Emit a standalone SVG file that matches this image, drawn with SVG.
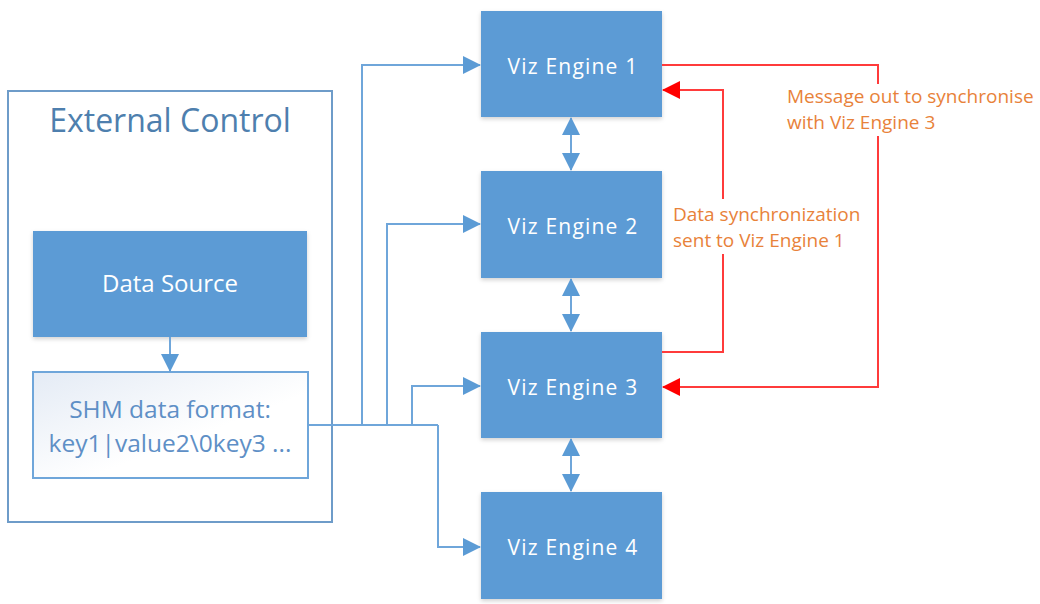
<svg xmlns="http://www.w3.org/2000/svg" width="1040" height="604" viewBox="0 0 1040 604">
<style>
.box{fill:#5B9BD5;filter:url(#sh)}
.wt{font-family:"Open Sans","Noto Sans",sans-serif;fill:#FFFFFF;text-anchor:middle}
.eng{font-size:21px;letter-spacing:1.2px}
.bl{fill:none;stroke:#6FA6DA;stroke-width:2}
.rd{fill:none;stroke:#FF3B3B;stroke-width:2}
.or{font-family:"Open Sans","Noto Sans",sans-serif;font-size:19px;fill:#E8823A}
</style>
<defs>
<filter id="sh" x="-10%" y="-10%" width="120%" height="130%">
<feDropShadow dx="0" dy="2" stdDeviation="2" flood-color="#000" flood-opacity="0.18"/>
</filter>
<linearGradient id="g" x1="0" y1="0" x2="1" y2="1">
<stop offset="0" stop-color="#E4EBF5"/>
<stop offset="0.6" stop-color="#FFFFFF"/>
</linearGradient>
<marker id="abL" markerWidth="18" markerHeight="18" refX="17" refY="9" orient="auto-start-reverse" markerUnits="userSpaceOnUse" viewBox="0 0 18 18">
<path d="M0,0 L18,9 L0,18 Z" fill="#5B9BD5"/>
</marker>
<marker id="ar" markerWidth="18" markerHeight="18" refX="17" refY="9" orient="auto" markerUnits="userSpaceOnUse" viewBox="0 0 18 18">
<path d="M0,0 L18,9 L0,18 Z" fill="#FF0000"/>
</marker>
</defs>
<rect width="1040" height="604" fill="#FFFFFF"/>

<g id="external-control">
<rect x="8" y="91" width="324" height="431" fill="#FFFFFF" stroke="#6E9CC9" stroke-width="2"/>
<text x="170" y="132" font-family="Open Sans, Noto Sans, sans-serif" font-size="32" fill="#4E7FAE" text-anchor="middle">External Control</text>
</g>

<g id="data-source">
<rect class="box" x="33" y="231" width="274" height="106"/>
<text class="wt" x="170" y="292" font-size="24">Data Source</text>
</g>

<g id="shm-format">
<rect x="33" y="372" width="275" height="106" fill="url(#g)" stroke="#6FA6DA" stroke-width="2"/>
<text x="170" y="418" font-family="Open Sans, Noto Sans, sans-serif" font-size="24.5" fill="#5E8FC6" text-anchor="middle">SHM data format:</text>
<text x="170" y="452" font-family="Open Sans, Noto Sans, sans-serif" font-size="24.5" fill="#5E8FC6" text-anchor="middle">key1|value2\0key3 ...</text>
</g>

<g id="viz-engine-1">
<rect class="box" x="481" y="11" width="181" height="106"/>
<text class="wt eng" x="573" y="74">Viz Engine 1</text>
</g>
<g id="viz-engine-2">
<rect class="box" x="481" y="171" width="181" height="107"/>
<text class="wt eng" x="573" y="234">Viz Engine 2</text>
</g>
<g id="viz-engine-3">
<rect class="box" x="481" y="332" width="181" height="106"/>
<text class="wt eng" x="573" y="395">Viz Engine 3</text>
</g>
<g id="viz-engine-4">
<rect class="box" x="481" y="492" width="181" height="107"/>
<text class="wt eng" x="573" y="555">Viz Engine 4</text>
</g>

<g id="connectors">
<path class="bl" d="M170,337 V371" marker-end="url(#abL)"/>
<path class="bl" d="M308,425 H438"/>
<path class="bl" d="M362,425 V65 H480" marker-end="url(#abL)"/>
<path class="bl" d="M387,425 V224 H480" marker-end="url(#abL)"/>
<path class="bl" d="M412,425 V386 H480" marker-end="url(#abL)"/>
<path class="bl" d="M438,425 V547 H480" marker-end="url(#abL)"/>
<path class="bl" d="M571,118 V170" marker-start="url(#abL)" marker-end="url(#abL)"/>
<path class="bl" d="M571,279 V331" marker-start="url(#abL)" marker-end="url(#abL)"/>
<path class="bl" d="M571,439 V491" marker-start="url(#abL)" marker-end="url(#abL)"/>

<path class="rd" d="M662,65 H878 V387 H663" marker-end="url(#ar)"/>
<path class="rd" d="M662,352 H723 V90 H663" marker-end="url(#ar)"/>
<rect x="783" y="84" width="257" height="52" fill="#FFFFFF"/>
<text class="or" x="787" y="103">Message out to synchronise</text>
<text class="or" x="787" y="129">with Viz Engine 3</text>
<rect x="668" y="199" width="200" height="55" fill="#FFFFFF"/>
<text class="or" x="673" y="221">Data synchronization</text>
<text class="or" x="673" y="247">sent to Viz Engine 1</text>
</g>
</svg>
